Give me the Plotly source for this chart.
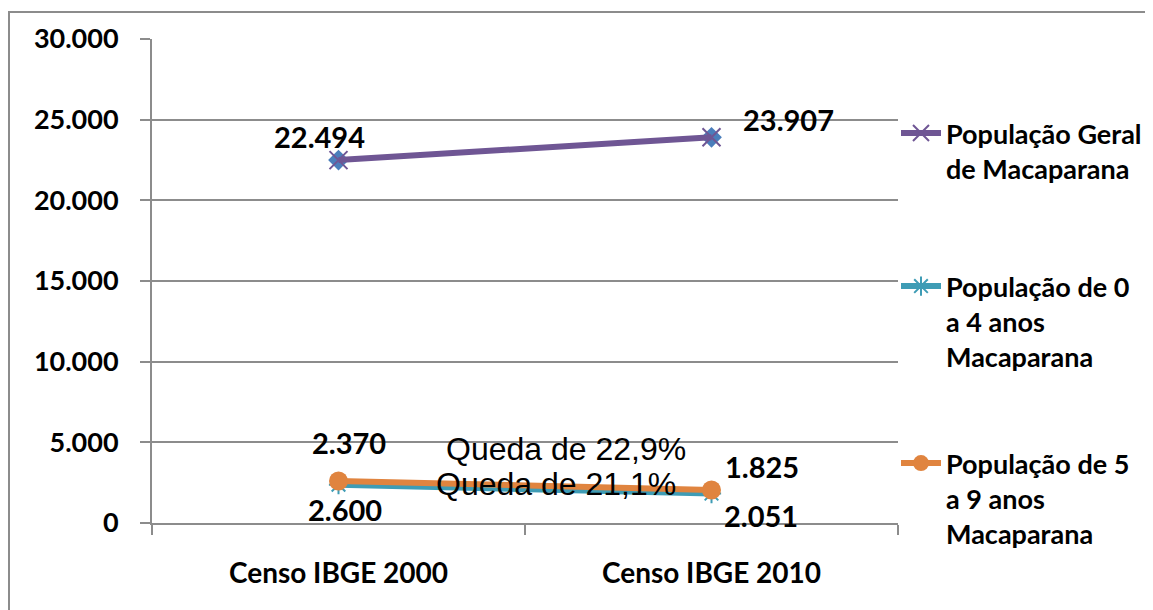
import plotly.graph_objects as go

categories = ["Censo IBGE 2000", "Censo IBGE 2010"]
geral = [22494, 23907]
pop_0_4 = [2370, 1825]
pop_5_9 = [2600, 2051]
queda_texts = ["Queda de 22,9%", "Queda de 21,1%"]
y_ticks = [0, 5000, 10000, 15000, 20000, 25000, 30000]

PURPLE = "#6F5694"
TEAL = "#3E9CB5"
ORANGE = "#E0843F"
BLUE = "#4A7EBB"
GRID = "#8C8C8C"
FONT = "Lato"

OFF = 8  # page body margin
W, H = 1145, 602
L, T = 152 - OFF, 39 - OFF
PR, PB = 898 - OFF, 523 - OFF
R, B = W - PR, H - PB
PW, PH = PR - L, PB - T

def px_x(x):  # page pixel -> paper x
    return (x - OFF - L) / PW

def px_y(y):  # page pixel -> paper y
    return (PB - (y - OFF)) / PH

fig = go.Figure()

fig.add_trace(go.Scatter(
    x=categories, y=geral, mode="markers", showlegend=False, hoverinfo="skip",
    marker=dict(symbol="diamond", size=16, color=BLUE)))

fig.add_trace(go.Scatter(
    x=categories, y=geral, mode="lines+markers", name="População Geral<br>de Macaparana",
    line=dict(color=PURPLE, width=6),
    marker=dict(symbol="x-thin", size=18, line=dict(color=PURPLE, width=2)),
    legend="legend"))

fig.add_trace(go.Scatter(
    x=categories, y=pop_0_4, mode="lines+markers", name="População de 0<br>a 4 anos<br>Macaparana",
    line=dict(color=TEAL, width=6),
    marker=dict(symbol="asterisk", size=16, line=dict(color=TEAL, width=2)),
    legend="legend2"))

fig.add_trace(go.Scatter(
    x=categories, y=pop_5_9, mode="lines+markers", name="População de 5<br>a 9 anos<br>Macaparana",
    line=dict(color=ORANGE, width=6),
    marker=dict(symbol="circle", size=19, color=ORANGE),
    legend="legend3"))

label_font = dict(family=FONT, size=29, color="black", weight="bold")
series = [(geral, [(-19, 24), (77, 18)]),
          (pop_0_4, [(10, 42), (50, 27)]),
          (pop_5_9, [(6, -28), (49, -26)])]
annotations = []
for vals, offs in series:
    for cat, v, (dx, dy) in zip(categories, vals, offs):
        annotations.append(dict(
            x=cat, y=v, xref="x", yref="y", text=f"{v:,}".replace(",", "."),
            showarrow=False, xshift=dx, yshift=dy, font=label_font,
            xanchor="center", yanchor="middle"))

queda_pos = [(566, 449), (556, 484)]
for txt, (qx, qy) in zip(queda_texts, queda_pos):
    annotations.append(dict(
        x=px_x(qx), y=px_y(qy), xref="paper", yref="paper", text=txt, showarrow=False,
        xanchor="center", yanchor="middle",
        font=dict(family="Liberation Sans", size=32, color="black")))

shapes = [dict(type="rect", xref="paper", yref="paper",
               x0=px_x(9), x1=px_x(1180),
               y0=px_y(640), y1=px_y(12),
               line=dict(color=GRID, width=2), fillcolor="rgba(0,0,0,0)", layer="below")]

legend_font = dict(family=FONT, size=27, color="black", weight="bold")
def leg(ytop_page):
    return dict(x=px_x(896), xanchor="left", y=px_y(ytop_page), yanchor="top",
                font=legend_font, bgcolor="rgba(0,0,0,0)", valign="top", itemwidth=40)

fig.update_layout(
    width=W, height=H,
    margin=dict(l=L, r=R, t=T, b=B, pad=0, autoexpand=False),
    paper_bgcolor="white", plot_bgcolor="white",
    separators=",.",
    showlegend=True,
    legend=leg(109), legend2=leg(262), legend3=leg(439),
    annotations=annotations, shapes=shapes,
    xaxis=dict(
        type="category", range=[-0.5, 1.5], tickson="boundaries",
        ticks="outside", ticklen=10, tickcolor=GRID, tickwidth=2,
        showline=True, linecolor=GRID, linewidth=2, showgrid=False,
        tickfont=dict(family=FONT, size=28, color="black", weight="bold"),
        ticklabelstandoff=24),
    yaxis=dict(
        range=[0, 30000], tickvals=y_ticks, tickformat=",d",
        ticks="outside", ticklen=10, tickcolor=GRID, tickwidth=2,
        showline=True, linecolor=GRID, linewidth=2,
        showgrid=True, gridcolor=GRID, gridwidth=2, zeroline=False,
        tickfont=dict(family=FONT, size=27, color="black", weight="bold"),
        ticklabelstandoff=16),
)

fig.write_html("out.html")
